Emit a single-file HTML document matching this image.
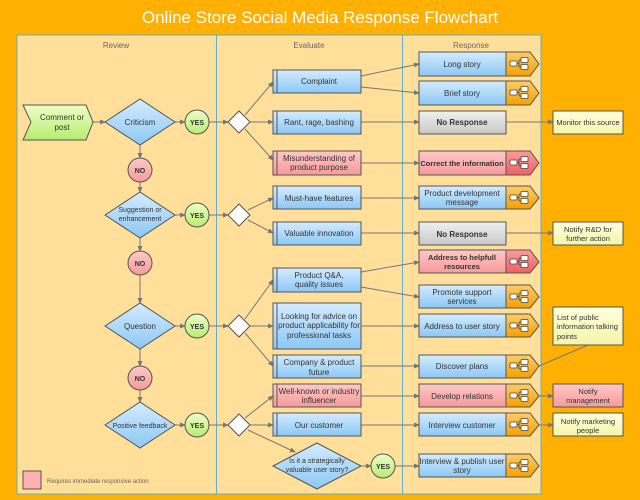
<!DOCTYPE html>
<html><head><meta charset="utf-8"><style>
html,body{margin:0;padding:0;background:#FFB000;}
svg{display:block;font-family:"Liberation Sans",sans-serif;}
text{fill:#333;font-size:8px;text-anchor:middle;}
</style></head><body>
<svg width="640" height="500" viewBox="0 0 640 500">
<defs>
<linearGradient id="bl" x1="0" y1="0" x2="0" y2="1"><stop offset="0" stop-color="#d4ecff"/><stop offset="1" stop-color="#8cc8f5"/></linearGradient>
<linearGradient id="pk" x1="0" y1="0" x2="0" y2="1"><stop offset="0" stop-color="#ffc8c8"/><stop offset="1" stop-color="#f79a9a"/></linearGradient>
<linearGradient id="gr" x1="0" y1="0" x2="0" y2="1"><stop offset="0" stop-color="#f0f0f0"/><stop offset="1" stop-color="#c8c8c8"/></linearGradient>
<linearGradient id="or" x1="0" y1="0" x2="0" y2="1"><stop offset="0" stop-color="#ffcc66"/><stop offset="1" stop-color="#f5a000"/></linearGradient>
<linearGradient id="rd" x1="0" y1="0" x2="0" y2="1"><stop offset="0" stop-color="#ff9a9a"/><stop offset="1" stop-color="#f06060"/></linearGradient>
<linearGradient id="gn" x1="0" y1="0" x2="0" y2="1"><stop offset="0" stop-color="#ecffc8"/><stop offset="1" stop-color="#b8ec70"/></linearGradient>
<linearGradient id="yl" x1="0" y1="0" x2="0" y2="1"><stop offset="0" stop-color="#ffffe0"/><stop offset="1" stop-color="#f5f5a8"/></linearGradient>
<marker id="a" markerWidth="6" markerHeight="6" refX="5" refY="3" orient="auto" markerUnits="userSpaceOnUse"><path d="M0,0.5 L6,3 L0,5.5z" fill="#777"/></marker>
<g id="ic"><rect x="0" y="-3" width="7" height="5" rx="1" fill="#fff" stroke="#444" stroke-width="0.8"/><path d="M7,-0.5 H9 M9,-4 V3 M9,-4 H11 M9,3 H11" stroke="#444" stroke-width="0.8" fill="none"/><rect x="11" y="-6.5" width="7" height="5" rx="1" fill="#fff" stroke="#444" stroke-width="0.8"/><rect x="11" y="0.5" width="7" height="5" rx="1" fill="#fff" stroke="#444" stroke-width="0.8"/></g>
</defs>
<rect width="640" height="500" fill="#FFB000"/>
<text x="320" y="23" style="font-size:17px;fill:#fff">Online Store Social Media Response Flowchart</text>
<rect x="17" y="35" width="524" height="459" fill="#FFDF99" stroke="#5fb0d0" stroke-width="1"/>
<line x1="216.5" y1="35" x2="216.5" y2="494" stroke="#5fb0d0"/>
<line x1="402.5" y1="35" x2="402.5" y2="494" stroke="#5fb0d0"/>
<text x="116" y="48" style="fill:#666">Review</text>
<text x="309" y="48" style="fill:#666">Evaluate</text>
<text x="471" y="48" style="fill:#666">Response</text>

<g stroke="#777" stroke-width="1" fill="none" marker-end="url(#a)">
<line x1="93" y1="122" x2="105" y2="122"/>
<line x1="175" y1="122" x2="185" y2="122"/>
<line x1="209" y1="122" x2="228" y2="122"/>
<line x1="140" y1="145" x2="140" y2="158"/>
<line x1="140" y1="182" x2="140" y2="192"/>
<line x1="175" y1="215" x2="185" y2="215"/>
<line x1="209" y1="215" x2="228" y2="215"/>
<line x1="140" y1="238" x2="140" y2="251"/>
<line x1="140" y1="275" x2="140" y2="303"/>
<line x1="175" y1="326" x2="185" y2="326"/>
<line x1="209" y1="326" x2="228" y2="326"/>
<line x1="140" y1="349" x2="140" y2="366"/>
<line x1="140" y1="390" x2="140" y2="402"/>
<line x1="175" y1="425" x2="185" y2="425"/>
<line x1="209" y1="425" x2="228" y2="425"/>
<line x1="245" y1="115" x2="273" y2="82"/>
<line x1="250" y1="122" x2="273" y2="122"/>
<line x1="245" y1="129" x2="273" y2="160"/>
<line x1="248" y1="210" x2="273" y2="198"/>
<line x1="248" y1="220" x2="273" y2="233"/>
<line x1="245" y1="319" x2="273" y2="280"/>
<line x1="250" y1="326" x2="273" y2="326"/>
<line x1="245" y1="333" x2="273" y2="366"/>
<line x1="245" y1="418" x2="273" y2="396"/>
<line x1="250" y1="425" x2="273" y2="425"/>
<line x1="248" y1="430" x2="295" y2="452"/>
<line x1="361" y1="76" x2="419" y2="64"/>
<line x1="361" y1="87" x2="419" y2="93"/>
<line x1="361" y1="122" x2="419" y2="122"/>
<line x1="361" y1="163" x2="419" y2="163"/>
<line x1="361" y1="198" x2="419" y2="198"/>
<line x1="361" y1="233" x2="419" y2="233"/>
<line x1="361" y1="272" x2="419" y2="262"/>
<line x1="361" y1="287" x2="419" y2="297"/>
<line x1="361" y1="326" x2="419" y2="326"/>
<line x1="361" y1="366" x2="419" y2="366"/>
<line x1="361" y1="396" x2="419" y2="396"/>
<line x1="361" y1="425" x2="419" y2="425"/>
<line x1="360" y1="466" x2="371" y2="466"/>
<line x1="395" y1="466" x2="419" y2="466"/>
<line x1="506" y1="122" x2="553" y2="122"/>
<line x1="506" y1="233" x2="553" y2="233"/>
<line x1="539" y1="396" x2="553" y2="396"/>
<line x1="539" y1="425" x2="553" y2="425"/>
</g>
<line x1="539" y1="366" x2="588" y2="345" stroke="#777"/>

<g stroke="#555" stroke-width="1">
<path d="M23,105 H86 L93,122 L86,140 H23 L31,122 Z" fill="url(#gn)"/>
<path d="M105,122 L140,99 L175,122 L140,145Z" fill="url(#bl)"/>
<path d="M105,215 L140,192 L175,215 L140,238Z" fill="url(#bl)"/>
<path d="M105,326 L140,303 L175,326 L140,349Z" fill="url(#bl)"/>
<path d="M105,425 L140,402 L175,425 L140,448Z" fill="url(#bl)"/>
<circle cx="140" cy="170" r="12" fill="url(#pk)"/>
<circle cx="140" cy="263" r="12" fill="url(#pk)"/>
<circle cx="140" cy="378" r="12" fill="url(#pk)"/>
<circle cx="197" cy="122" r="12" fill="url(#gn)"/>
<circle cx="197" cy="215" r="12" fill="url(#gn)"/>
<circle cx="197" cy="326" r="12" fill="url(#gn)"/>
<circle cx="197" cy="425" r="12" fill="url(#gn)"/>
<circle cx="383" cy="466" r="12" fill="url(#gn)"/>
<path d="M228,122 L239,111 L250,122 L239,133Z" fill="#fff"/>
<path d="M228,215 L239,204 L250,215 L239,226Z" fill="#fff"/>
<path d="M228,326 L239,315 L250,326 L239,337Z" fill="#fff"/>
<path d="M228,425 L239,414 L250,425 L239,436Z" fill="#fff"/>
<path d="M273,466 L317,443 L361,466 L317,489Z" fill="url(#bl)"/>
<rect x="23" y="471" width="18" height="18" fill="#ffb0b0"/>
</g>
<g font-size="8">
<text x="62" y="120">Comment or</text><text x="62" y="130">post</text>
<text x="140" y="125">Criticism</text>
<text x="140" y="212" style="font-size:7px">Suggestion or</text><text x="140" y="221" style="font-size:7px">enhancement</text>
<text x="140" y="329">Question</text>
<text x="140" y="428" style="font-size:7px">Positive feedback</text>
<text x="317" y="463" style="font-size:7px">Is it a strategically</text><text x="317" y="472" style="font-size:7px">valuable user story?</text>
</g>
<g style="font-weight:bold" >
<text x="140" y="173" style="font-size:7px;font-weight:bold">NO</text>
<text x="140" y="266" style="font-size:7px;font-weight:bold">NO</text>
<text x="140" y="381" style="font-size:7px;font-weight:bold">NO</text>
<text x="197" y="125" style="font-size:7px;font-weight:bold">YES</text>
<text x="197" y="218" style="font-size:7px;font-weight:bold">YES</text>
<text x="197" y="329" style="font-size:7px;font-weight:bold">YES</text>
<text x="197" y="428" style="font-size:7px;font-weight:bold">YES</text>
<text x="383" y="469" style="font-size:7px;font-weight:bold">YES</text>
</g>
<text x="47" y="483" style="text-anchor:start;font-size:6px;fill:#666">Requires immediate responsive action</text>

<!-- Evaluate boxes -->
<g stroke="#555" stroke-width="1">
<rect x="273" y="70" width="88" height="23" fill="url(#bl)"/>
<rect x="273" y="111" width="88" height="23" fill="url(#bl)"/>
<rect x="273" y="151" width="88" height="24" fill="url(#pk)"/>
<rect x="273" y="186" width="88" height="23" fill="url(#bl)"/>
<rect x="273" y="222" width="88" height="23" fill="url(#bl)"/>
<rect x="273" y="268" width="88" height="24" fill="url(#bl)"/>
<rect x="273" y="303" width="88" height="46" fill="url(#bl)"/>
<rect x="273" y="355" width="88" height="23" fill="url(#bl)"/>
<rect x="273" y="384" width="88" height="23" fill="url(#pk)"/>
<rect x="273" y="413" width="88" height="23" fill="url(#bl)"/>
</g>
<g stroke="#555" stroke-width="1">
<line x1="277" y1="70" x2="277" y2="93"/><line x1="277" y1="111" x2="277" y2="134"/><line x1="277" y1="151" x2="277" y2="175"/><line x1="277" y1="186" x2="277" y2="209"/><line x1="277" y1="222" x2="277" y2="245"/><line x1="277" y1="268" x2="277" y2="292"/><line x1="277" y1="303" x2="277" y2="349"/><line x1="277" y1="355" x2="277" y2="378"/><line x1="277" y1="384" x2="277" y2="407"/><line x1="277" y1="413" x2="277" y2="436"/>
</g>
<text x="319" y="84">Complaint</text>
<text x="319" y="125">Rant, rage, bashing</text>
<text x="319" y="161">Misunderstanding of</text><text x="319" y="170">product purpose</text>
<text x="319" y="201">Must-have features</text>
<text x="319" y="236">Valuable innovation</text>
<text x="319" y="278">Product Q&amp;A,</text><text x="319" y="287">quality issues</text>
<text x="319" y="319">Looking for advice on</text><text x="319" y="328">product applicability for</text><text x="319" y="338">professional tasks</text>
<text x="319" y="365">Company &amp; product</text><text x="319" y="375">future</text>
<text x="319" y="394">Well-known or industry</text><text x="319" y="403">influencer</text>
<text x="319" y="428">Our customer</text>

<!-- Response -->
<g stroke="#555" stroke-width="1">
<rect x="419" y="52" width="87" height="24" fill="url(#bl)"/><path d="M506,52 H530 L539,64 L530,76 H506Z" fill="url(#or)"/>
<rect x="419" y="81" width="87" height="24" fill="url(#bl)"/><path d="M506,81 H530 L539,93 L530,105 H506Z" fill="url(#or)"/>
<rect x="419" y="111" width="87" height="23" fill="url(#gr)"/>
<rect x="419" y="151" width="87" height="24" fill="url(#pk)"/><path d="M506,151 H530 L539,163 L530,175 H506Z" fill="url(#rd)"/>
<rect x="419" y="186" width="87" height="23" fill="url(#bl)"/><path d="M506,186 H530 L539,198 L530,209 H506Z" fill="url(#or)"/>
<rect x="419" y="222" width="87" height="23" fill="url(#gr)"/>
<rect x="419" y="250" width="87" height="23" fill="url(#pk)"/><path d="M506,250 H530 L539,262 L530,273 H506Z" fill="url(#rd)"/>
<rect x="419" y="285" width="87" height="23" fill="url(#bl)"/><path d="M506,285 H530 L539,297 L530,308 H506Z" fill="url(#or)"/>
<rect x="419" y="314" width="87" height="23" fill="url(#bl)"/><path d="M506,314 H530 L539,326 L530,337 H506Z" fill="url(#or)"/>
<rect x="419" y="355" width="87" height="23" fill="url(#bl)"/><path d="M506,355 H530 L539,366 L530,378 H506Z" fill="url(#or)"/>
<rect x="419" y="384" width="87" height="23" fill="url(#pk)"/><path d="M506,384 H530 L539,396 L530,407 H506Z" fill="url(#or)"/>
<rect x="419" y="413" width="87" height="23" fill="url(#bl)"/><path d="M506,413 H530 L539,425 L530,436 H506Z" fill="url(#or)"/>
<rect x="419" y="454" width="87" height="23" fill="url(#bl)"/><path d="M506,454 H530 L539,466 L530,477 H506Z" fill="url(#or)"/>
<rect x="553" y="111" width="70" height="23" fill="url(#yl)"/>
<rect x="553" y="222" width="70" height="23" fill="url(#yl)"/>
<rect x="553" y="307" width="70" height="38" fill="url(#yl)"/>
<rect x="553" y="384" width="70" height="23" fill="url(#pk)"/>
<rect x="553" y="413" width="70" height="23" fill="url(#yl)"/>
</g>
<use href="#ic" x="510" y="64"/><use href="#ic" x="510" y="93"/><use href="#ic" x="510" y="163"/><use href="#ic" x="510" y="198"/><use href="#ic" x="510" y="262"/><use href="#ic" x="510" y="297"/><use href="#ic" x="510" y="326"/><use href="#ic" x="510" y="366"/><use href="#ic" x="510" y="396"/><use href="#ic" x="510" y="425"/><use href="#ic" x="510" y="466"/>
<text x="462" y="67">Long story</text>
<text x="462" y="96">Brief story</text>
<text x="462" y="125" style="font-weight:bold">No Response</text>
<text x="462" y="166" style="font-weight:bold;font-size:7.5px">Correct the information</text>
<text x="462" y="196">Product development</text><text x="462" y="205">message</text>
<text x="462" y="237" style="font-weight:bold">No Response</text>
<text x="462" y="260" style="font-weight:bold;font-size:7.5px">Address to helpfull</text><text x="462" y="269" style="font-weight:bold;font-size:7.5px">resources</text>
<text x="462" y="295">Promote support</text><text x="462" y="304">services</text>
<text x="462" y="329">Address to user story</text>
<text x="462" y="369">Discover plans</text>
<text x="462" y="399">Develop relations</text>
<text x="462" y="428">Interview customer</text>
<text x="462" y="464">Interview &amp; publish user</text><text x="462" y="473">story</text>
<text x="588" y="125" style="font-size:7.5px">Monitor this source</text>
<text x="588" y="232" style="font-size:7.5px">Notify R&amp;D for</text><text x="588" y="241" style="font-size:7.5px">further action</text>
<text x="557" y="320" style="text-anchor:start;font-size:7.5px">List of public</text><text x="557" y="329" style="text-anchor:start;font-size:7.5px">information talking</text><text x="557" y="339" style="text-anchor:start;font-size:7.5px">points</text>
<text x="588" y="394" style="font-size:7.5px">Notify</text><text x="588" y="403" style="font-size:7.5px">management</text>
<text x="588" y="424" style="font-size:7.5px">Notify marketing</text><text x="588" y="433" style="font-size:7.5px">people</text>
</svg>
</body></html>
